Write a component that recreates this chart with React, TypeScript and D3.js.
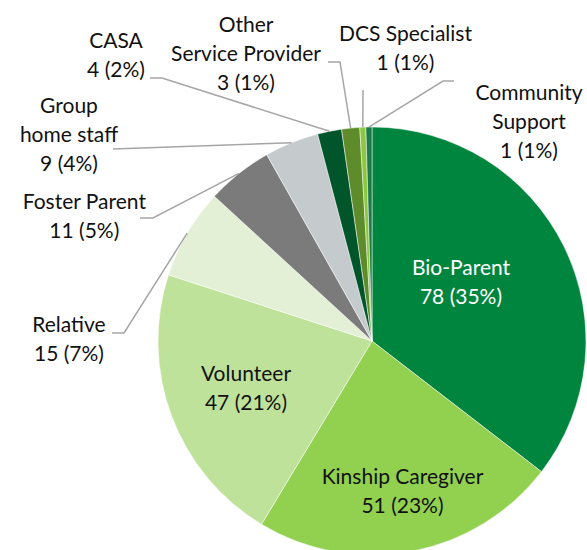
import React from "react";
import * as d3 from "d3";

const categories = [
  "Bio-Parent",
  "Kinship Caregiver",
  "Volunteer",
  "Relative",
  "Foster Parent",
  "Group home staff",
  "CASA",
  "Other Service Provider",
  "DCS Specialist",
  "Community Support",
];
const values = [78, 51, 47, 15, 11, 9, 4, 3, 1, 1];
const percentLabels = ["35%", "23%", "21%", "7%", "5%", "4%", "2%", "1%", "1%", "1%"];
const colors = [
  "#00853E",
  "#92D050",
  "#BFE29A",
  "#E3F0D5",
  "#7B7B7B",
  "#C5CACD",
  "#00552A",
  "#5E8C2B",
  "#8DC63F",
  "#1B7A45",
];

// label layout: name lines, center x, first baseline y, inside flag, leader polyline start points
type Layout = {
  lines: string[];
  x: number;
  y: number;
  inside?: boolean;
  white?: boolean;
  leader?: [number, number][];
};
const layouts: Layout[] = [
  { lines: ["Bio-Parent"], x: 461, y: 275, inside: true, white: true },
  { lines: ["Kinship Caregiver"], x: 402.5, y: 483.5, inside: true },
  { lines: ["Volunteer"], x: 246, y: 381, inside: true },
  { lines: ["Relative"], x: 69, y: 331.5, leader: [[112, 333], [124, 333]] },
  { lines: ["Foster Parent"], x: 84.3, y: 208.5, leader: [[140, 218], [153, 218]] },
  { lines: ["Group", "home staff"], x: 69, y: 113.3, leader: [[113, 149]] },
  { lines: ["CASA"], x: 116, y: 48.3, leader: [[150, 78], [162, 78]] },
  { lines: ["Other", "Service Provider"], x: 246, y: 32.3, leader: [[328, 62], [340, 62]] },
  { lines: ["DCS Specialist"], x: 405.5, y: 40.5, leader: [[363, 90]] },
  { lines: ["Community", "Support"], x: 529, y: 100, leader: [[454, 81], [443, 81]] },
];

const W = 587;
const H = 550;
const cx = 372;
const cy = 341;
const R = 214;
const LINE = 29;

export default function App() {
  const pie = d3
    .pie<number>()
    .sort(null)
    .value((d) => d)(values);
  const arc = d3.arc<d3.PieArcDatum<number>>().innerRadius(0).outerRadius(R);

  return (
    <svg
      width={W}
      height={H}
      viewBox={`0 0 ${W} ${H}`}
      style={{ position: "absolute", left: 0, top: 0, background: "#fff" }}
      fontFamily="Lato, 'Open Sans', sans-serif"
      fontSize={21}
    >
      <g transform={`translate(${cx},${cy})`}>
        {pie.map((p, i) => (
          <path key={i} d={arc(p) || ""} fill={colors[i]} stroke="#fff" strokeWidth={0.5} />
        ))}
      </g>
      {pie.map((p, i) => {
        const L = layouts[i];
        if (!L.leader) return null;
        const mid = (p.startAngle + p.endAngle) / 2;
        const ex = cx + R * Math.sin(mid);
        const ey = cy - R * Math.cos(mid);
        const pts = [...L.leader, [ex, ey]] as [number, number][];
        return (
          <path
            key={"l" + i}
            d={d3.line()(pts) || ""}
            fill="none"
            stroke="#A6A6A6"
            strokeWidth={1.5}
          />
        );
      })}
      {pie.map((p, i) => {
        const L = layouts[i];
        const all = [...L.lines, `${values[i]} (${percentLabels[i]})`];
        return (
          <text
            key={"t" + i}
            textAnchor="middle"
            fill={L.white ? "#fff" : "#111"}
          >
            {all.map((s, j) => (
              <tspan key={j} x={L.x} y={L.y + j * LINE}>
                {s}
              </tspan>
            ))}
          </text>
        );
      })}
    </svg>
  );
}
